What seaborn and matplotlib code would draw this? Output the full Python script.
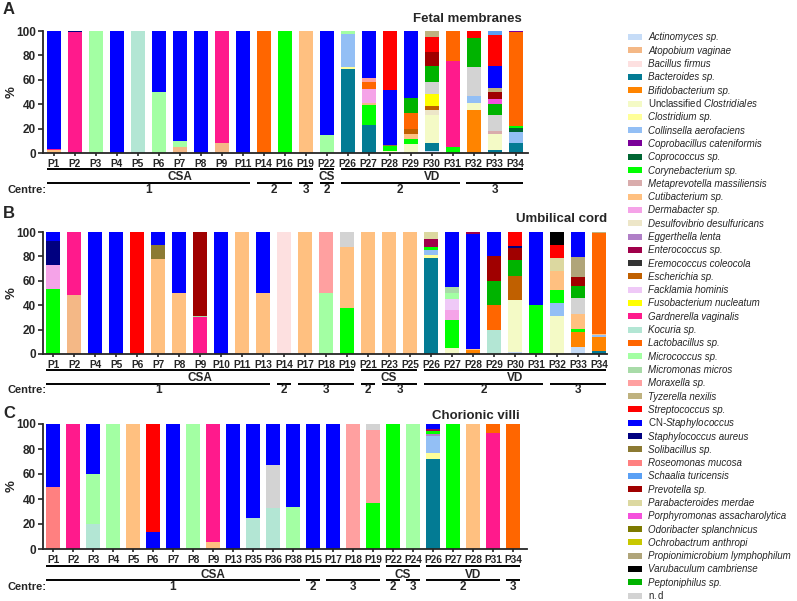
import pandas as pd
import matplotlib.pyplot as plt
import matplotlib.transforms as mtransforms
from matplotlib.patches import Rectangle
import seaborn as sns

sns.set_style("ticks")
plt.rcParams["font.family"] = ["Liberation Sans", "DejaVu Sans"]
plt.rcParams["mathtext.fontset"] = "custom"
plt.rcParams["mathtext.rm"] = "Liberation Sans"
plt.rcParams["mathtext.it"] = "Liberation Sans:italic"

W, H = 797, 601

# legend taxa, in legend order
taxa = [
    "Actinomyces sp.", "Atopobium vaginae", "Bacillus firmus", "Bacteroides sp.",
    "Bifidobacterium sp.", "Unclassified Clostridiales", "Clostridium sp.",
    "Collinsella aerofaciens", "Coprobacillus cateniformis", "Coprococcus sp.",
    "Corynebacterium sp.", "Metaprevotella massiliensis", "Cutibacterium sp.",
    "Dermabacter sp.", "Desulfovibrio desulfuricans", "Eggerthella lenta",
    "Enterococcus sp.", "Eremococcus coleocola", "Escherichia sp.",
    "Facklamia hominis", "Fusobacterium nucleatum", "Gardnerella vaginalis",
    "Kocuria sp.", "Lactobacillus sp.", "Micrococcus sp.", "Micromonas micros",
    "Moraxella sp.", "Tyzerella nexilis", "Streptococcus sp.", "CN-Staphylococcus",
    "Staphylococcus aureus", "Solibacillus sp.", "Roseomonas mucosa",
    "Schaalia turicensis", "Prevotella sp.", "Parabacteroides merdae",
    "Porphyromonas assacharolytica", "Odoribacter splanchnicus",
    "Ochrobactrum anthropi", "Propionimicrobium lymphophilum",
    "Varubaculum cambriense", "Peptoniphilus sp.", "n.d",
]
taxa_colors = [
    "#c6dcf7", "#f4b886", "#fde0e0", "#037b94",
    "#ff8400", "#f4fac6", "#ffff99",
    "#93bff5", "#7a0099", "#006633",
    "#00ff00", "#d9acac", "#ffc080",
    "#f5a3e8", "#ede6c8", "#b07fc7",
    "#a0004a", "#333333", "#c06000",
    "#efc9f7", "#ffff00", "#ff1a8c",
    "#b3e6d4", "#ff6600", "#a3ffa3", "#a8dba8",
    "#ffa0a0", "#bfb27f", "#ff0000", "#0000ff",
    "#000080", "#8c7a33", "#ff8080",
    "#5aa0f5", "#a00000", "#dcd8a0",
    "#f550dc", "#7d7a00",
    "#c8c800", "#b0a57a",
    "#000000", "#00b300", "#d3d3d3",
]
special_labels = {
    "Unclassified Clostridiales": r"$\mathrm{Unclassified}$ Clostridiales",
    "CN-Staphylococcus": r"$\mathrm{CN}$-Staphylococcus",
    "n.d": r"$\mathrm{n.d}$",
}
color_of = dict(zip(taxa, taxa_colors))

# Fetal membranes
fm_samples = ["P1", "P2", "P3", "P4", "P5", "P6", "P7", "P8", "P9", "P11", "P14", "P16",
              "P19", "P22", "P26", "P27", "P28", "P29", "P30", "P31", "P32", "P33", "P34"]
fm_stacks = [
    [("Cutibacterium sp.", 2.5), ("Gardnerella vaginalis", 0.7), ("CN-Staphylococcus", 96.8)],
    [("Gardnerella vaginalis", 99), ("Staphylococcus aureus", 1)],
    [("Micrococcus sp.", 100)],
    [("CN-Staphylococcus", 100)],
    [("Kocuria sp.", 100)],
    [("Micrococcus sp.", 50), ("CN-Staphylococcus", 50)],
    [("Atopobium vaginae", 5), ("Micrococcus sp.", 4.5), ("CN-Staphylococcus", 90.5)],
    [("CN-Staphylococcus", 100)],
    [("Atopobium vaginae", 8), ("Gardnerella vaginalis", 92)],
    [("CN-Staphylococcus", 100)],
    [("Lactobacillus sp.", 100)],
    [("Corynebacterium sp.", 100)],
    [("Cutibacterium sp.", 100)],
    [("Micrococcus sp.", 14.5), ("CN-Staphylococcus", 85.5)],
    [("Bacteroides sp.", 68.5), ("Clostridium sp.", 2), ("Collinsella aerofaciens", 27),
     ("Micrococcus sp.", 2.5)],
    [("Bacteroides sp.", 22.7), ("Corynebacterium sp.", 17), ("Atopobium vaginae", 1.5),
     ("Dermabacter sp.", 11), ("Lactobacillus sp.", 6), ("Moraxella sp.", 3.5),
     ("CN-Staphylococcus", 38.3)],
    [("Unclassified Clostridiales", 2), ("Corynebacterium sp.", 3.5), ("Solibacillus sp.", 1),
     ("CN-Staphylococcus", 45), ("Streptococcus sp.", 48.5)],
    [("Unclassified Clostridiales", 7.7), ("Corynebacterium sp.", 4), ("Cutibacterium sp.", 4),
     ("Escherichia sp.", 4), ("Lactobacillus sp.", 13), ("Peptoniphilus sp.", 12.3),
     ("CN-Staphylococcus", 55)],
    [("Actinomyces sp.", 1.4), ("Bacteroides sp.", 7), ("Unclassified Clostridiales", 23),
     ("Desulfovibrio desulfuricans", 3.5), ("Escherichia sp.", 3.5),
     ("Fusobacterium nucleatum", 9.6), ("n.d", 10), ("Peptoniphilus sp.", 13.7),
     ("Prevotella sp.", 11), ("Streptococcus sp.", 12.3), ("Tyzerella nexilis", 5)],
    [("Corynebacterium sp.", 4.7), ("Gardnerella vaginalis", 70.7), ("Lactobacillus sp.", 24.6)],
    [("Bifidobacterium sp.", 35.6), ("Unclassified Clostridiales", 5),
     ("Collinsella aerofaciens", 6.3), ("n.d", 23.3), ("Peptoniphilus sp.", 24.3),
     ("Streptococcus sp.", 5.5)],
    [("Bacteroides sp.", 2.7), ("Unclassified Clostridiales", 12.6),
     ("Metaprevotella massiliensis", 3), ("n.d", 12.6), ("Peptoniphilus sp.", 9.6),
     ("Porphyromonas assacharolytica", 3.6), ("Prevotella sp.", 6), ("Tyzerella nexilis", 3.3),
     ("CN-Staphylococcus", 18), ("Streptococcus sp.", 25.3), ("Schaalia turicensis", 3.3)],
    [("Bacteroides sp.", 8.2), ("Collinsella aerofaciens", 9), ("Coprococcus sp.", 3.6),
     ("Corynebacterium sp.", 1.4), ("Lactobacillus sp.", 76.7),
     ("Coprobacillus cateniformis", 1.1)],
]
fm_modes = [("CSA", "P1", "P19"), ("CS", "P22", "P22"), ("VD", "P26", "P34")]
fm_centres = [("1", "P1", "P11"), ("2", "P14", "P16"), ("3", "P19", "P19"),
              ("2", "P22", "P22"), ("2", "P26", "P31"), ("3", "P32", "P34")]

# Umbilical cord
uc_samples = ["P1", "P2", "P4", "P5", "P6", "P7", "P8", "P9", "P10", "P11", "P13", "P14",
              "P17", "P18", "P19", "P21", "P23", "P25", "P26", "P27", "P28", "P29", "P30",
              "P31", "P32", "P33", "P34"]
uc_stacks = [
    [("Corynebacterium sp.", 53), ("Dermabacter sp.", 20), ("Staphylococcus aureus", 20),
     ("CN-Staphylococcus", 7)],
    [("Atopobium vaginae", 48), ("Gardnerella vaginalis", 52)],
    [("CN-Staphylococcus", 100)],
    [("CN-Staphylococcus", 100)],
    [("Streptococcus sp.", 100)],
    [("Cutibacterium sp.", 78), ("Solibacillus sp.", 11), ("CN-Staphylococcus", 11)],
    [("Cutibacterium sp.", 50), ("CN-Staphylococcus", 50)],
    [("Cutibacterium sp.", 1.2), ("Gardnerella vaginalis", 28.8), ("Micromonas micros", 1.2),
     ("Prevotella sp.", 68.8)],
    [("CN-Staphylococcus", 100)],
    [("Cutibacterium sp.", 100)],
    [("Cutibacterium sp.", 50), ("CN-Staphylococcus", 50)],
    [("Bacillus firmus", 100)],
    [("Cutibacterium sp.", 100)],
    [("Micrococcus sp.", 50), ("Moraxella sp.", 50)],
    [("Corynebacterium sp.", 38), ("Cutibacterium sp.", 50), ("n.d", 12)],
    [("Cutibacterium sp.", 100)],
    [("Cutibacterium sp.", 100)],
    [("Cutibacterium sp.", 100)],
    [("Bacteroides sp.", 78.7), ("Clostridium sp.", 2.2), ("Collinsella aerofaciens", 4.6),
     ("Corynebacterium sp.", 2.2), ("Enterococcus sp.", 6.8), ("Parabacteroides merdae", 5.5)],
    [("Unclassified Clostridiales", 4.6), ("Corynebacterium sp.", 23), ("Dermabacter sp.", 8.7),
     ("Facklamia hominis", 9), ("Micrococcus sp.", 4.6), ("Micromonas micros", 4.9),
     ("CN-Staphylococcus", 45.2)],
    [("Bifidobacterium sp.", 3.3), ("Cutibacterium sp.", 0.8), ("CN-Staphylococcus", 94.5),
     ("Enterococcus sp.", 1.4)],
    [("Kocuria sp.", 20), ("Lactobacillus sp.", 20), ("Peptoniphilus sp.", 20),
     ("Prevotella sp.", 20), ("CN-Staphylococcus", 20)],
    [("Actinomyces sp.", 1.6), ("Unclassified Clostridiales", 42.5), ("Escherichia sp.", 19.6),
     ("Peptoniphilus sp.", 13.6), ("Prevotella sp.", 9.5), ("Staphylococcus aureus", 1.6),
     ("Streptococcus sp.", 11.6)],
    [("Corynebacterium sp.", 39.8), ("CN-Staphylococcus", 60.2)],
    [("Unclassified Clostridiales", 31), ("Collinsella aerofaciens", 10.9),
     ("Corynebacterium sp.", 10.9), ("Cutibacterium sp.", 15.3),
     ("Parabacteroides merdae", 10.6), ("Streptococcus sp.", 10.9),
     ("Varubaculum cambriense", 10.4)],
    [("Actinomyces sp.", 5.4), ("Bifidobacterium sp.", 12.8), ("Corynebacterium sp.", 1.9),
     ("Cutibacterium sp.", 13), ("n.d", 13), ("Peptoniphilus sp.", 9.8),
     ("Prevotella sp.", 7.6), ("Propionimicrobium lymphophilum", 16.3),
     ("CN-Staphylococcus", 20.2)],
    [("Bacteroides sp.", 2.7), ("Bifidobacterium sp.", 11.4), ("Collinsella aerofaciens", 1.6),
     ("Cutibacterium sp.", 1), ("Lactobacillus sp.", 82.3), ("Tyzerella nexilis", 1)],
]
uc_modes = [("CSA", "P1", "P19"), ("CS", "P21", "P25"), ("VD", "P26", "P34")]
uc_centres = [("1", "P1", "P13"), ("2", "P14", "P14"), ("3", "P17", "P19"),
              ("2", "P21", "P21"), ("3", "P23", "P25"), ("2", "P26", "P31"), ("3", "P32", "P34")]

# Chorionic villi
cv_samples = ["P1", "P2", "P3", "P4", "P5", "P6", "P7", "P8", "P9", "P13", "P35", "P36",
              "P38", "P15", "P17", "P18", "P19", "P22", "P24", "P26", "P27", "P28", "P31", "P34"]
cv_stacks = [
    [("Roseomonas mucosa", 50), ("CN-Staphylococcus", 50)],
    [("Gardnerella vaginalis", 100)],
    [("Kocuria sp.", 20), ("Micrococcus sp.", 40), ("CN-Staphylococcus", 40)],
    [("Micrococcus sp.", 100)],
    [("Cutibacterium sp.", 100)],
    [("CN-Staphylococcus", 14), ("Streptococcus sp.", 86)],
    [("CN-Staphylococcus", 100)],
    [("Micrococcus sp.", 100)],
    [("Cutibacterium sp.", 6), ("Gardnerella vaginalis", 94)],
    [("CN-Staphylococcus", 100)],
    [("Kocuria sp.", 25), ("CN-Staphylococcus", 75)],
    [("Kocuria sp.", 33), ("n.d", 34), ("CN-Staphylococcus", 33)],
    [("Micrococcus sp.", 34), ("CN-Staphylococcus", 66)],
    [("CN-Staphylococcus", 100)],
    [("CN-Staphylococcus", 100)],
    [("Moraxella sp.", 100)],
    [("Corynebacterium sp.", 37), ("Moraxella sp.", 58), ("n.d", 5)],
    [("Corynebacterium sp.", 100)],
    [("Micrococcus sp.", 100)],
    [("Bacteroides sp.", 71.7), ("Clostridium sp.", 4.8), ("Collinsella aerofaciens", 13.9),
     ("Eggerthella lenta", 1.3), ("Corynebacterium sp.", 3), ("Enterococcus sp.", 1.6),
     ("CN-Staphylococcus", 3.7)],
    [("Corynebacterium sp.", 100)],
    [("Cutibacterium sp.", 100)],
    [("Gardnerella vaginalis", 93), ("Lactobacillus sp.", 7)],
    [("Lactobacillus sp.", 100)],
]
cv_modes = [("CSA", "P1", "P19"), ("CS", "P22", "P24"), ("VD", "P26", "P34")]
cv_centres = [("1", "P1", "P38"), ("2", "P15", "P15"), ("3", "P17", "P19"),
              ("2", "P22", "P22"), ("3", "P24", "P24"), ("2", "P26", "P31"), ("3", "P34", "P34")]


def fy(py):
    return 1 - py / H


def draw_panel(fig, samples, stacks, modes, centres, title, letter,
               box, xlim, title_px, letter_py, rows_py):
    left, right, top, bottom = box
    ax = fig.add_axes([left / W, fy(bottom), (right - left) / W, (bottom - top) / H])

    rows = []
    for s, stack in zip(samples, stacks):
        cum = 0
        for lvl, (taxon, val) in enumerate(stack):
            cum += val
            rows.append(dict(sample=s, level=lvl, taxon=taxon, top=cum))
    df = pd.DataFrame(rows)

    # stacked bars: tallest cumulative level first, lower levels painted over
    for lvl in sorted(df["level"].unique(), reverse=True):
        sub = df[df["level"] == lvl]
        pal = {s: color_of[t] for s, t in zip(sub["sample"], sub["taxon"])}
        sns.barplot(data=sub, x="sample", y="top", hue="sample", palette=pal,
                    order=samples, hue_order=list(sub["sample"]), width=0.67,
                    saturation=1, errorbar=None, legend=False, linewidth=0, ax=ax)

    ax.set_xlim(*xlim)
    ax.set_ylim(0, 100)
    ax.set_yticks(range(0, 101, 20))
    ax.set_yticklabels([str(v) for v in range(0, 101, 20)], fontweight="bold", fontsize=8.5)
    ax.set_xticks(range(len(samples)))
    ax.set_xticklabels(samples, fontweight="bold", fontsize=7.3)
    ax.tick_params(axis="y", width=1.2, length=3.6, pad=1.5)
    ax.tick_params(axis="x", width=1.2, length=2.5, pad=1.5)
    ax.set_xlabel("")
    ax.set_ylabel("%", fontweight="bold", fontsize=9.5)
    ax.yaxis.set_label_coords(-(left - 18) / (right - left), 0.5)
    sns.despine(ax=ax)
    for sp in ax.spines.values():
        sp.set_linewidth(1.3)

    trans = mtransforms.blended_transform_factory(ax.transData, fig.transFigure)
    mode_line, mode_text, centre_line, centre_text = rows_py
    for groups, yl, yt in [(modes, mode_line, mode_text), (centres, centre_line, centre_text)]:
        for lab, a, b in groups:
            i0, i1 = samples.index(a), samples.index(b)
            ax.plot([i0 - 0.34, i1 + 0.34], [fy(yl), fy(yl)], color="black", lw=1.4,
                    transform=trans, clip_on=False, solid_capstyle="butt")
            ax.text((i0 + i1) / 2, fy(yt), lab, transform=trans, ha="center", va="center",
                    fontsize=8.5, fontweight="bold")
    fig.text(8 / W, fy(centre_text), "Centre:", ha="left", va="center",
             fontsize=8, fontweight="bold")
    fig.text(title_px[0] / W, fy(title_px[1]), title, ha="right", va="center",
             fontsize=9.5, fontweight="bold")
    fig.text(9 / W, fy(letter_py), letter, ha="center", va="center",
             fontsize=12, fontweight="bold")
    return ax


fig = plt.figure(figsize=(W / 100, H / 100), dpi=100)

draw_panel(fig, fm_samples, fm_stacks, fm_modes, fm_centres, "Fetal membranes", "A",
           (43, 528, 31, 153), (-0.51, 22.59), (522, 19), 10, (169, 177, 183, 190))
draw_panel(fig, uc_samples, uc_stacks, uc_modes, uc_centres, "Umbilical cord", "B",
           (43, 607, 232, 354), (-0.48, 26.38), (607, 219), 214, (370, 378, 383.5, 390))
draw_panel(fig, cv_samples, cv_stacks, cv_modes, cv_centres, "Chorionic villi", "C",
           (43, 527, 424, 549), (-0.5, 23.7), (520, 416), 414, (566, 574.5, 580, 587.5))

# legend, one row every 13.3 px
for i, (t, c) in enumerate(zip(taxa, taxa_colors)):
    yc = 37 + i * 13.3
    fig.patches.append(Rectangle((628 / W, fy(yc + 3)), 14 / W, 6 / H,
                                 transform=fig.transFigure, facecolor=c, edgecolor="none"))
    fig.text(648 / W, fy(yc + 3.5), special_labels.get(t, t), ha="left", va="baseline",
             fontsize=7, style="italic")

fig.savefig("out.png", dpi=100)
